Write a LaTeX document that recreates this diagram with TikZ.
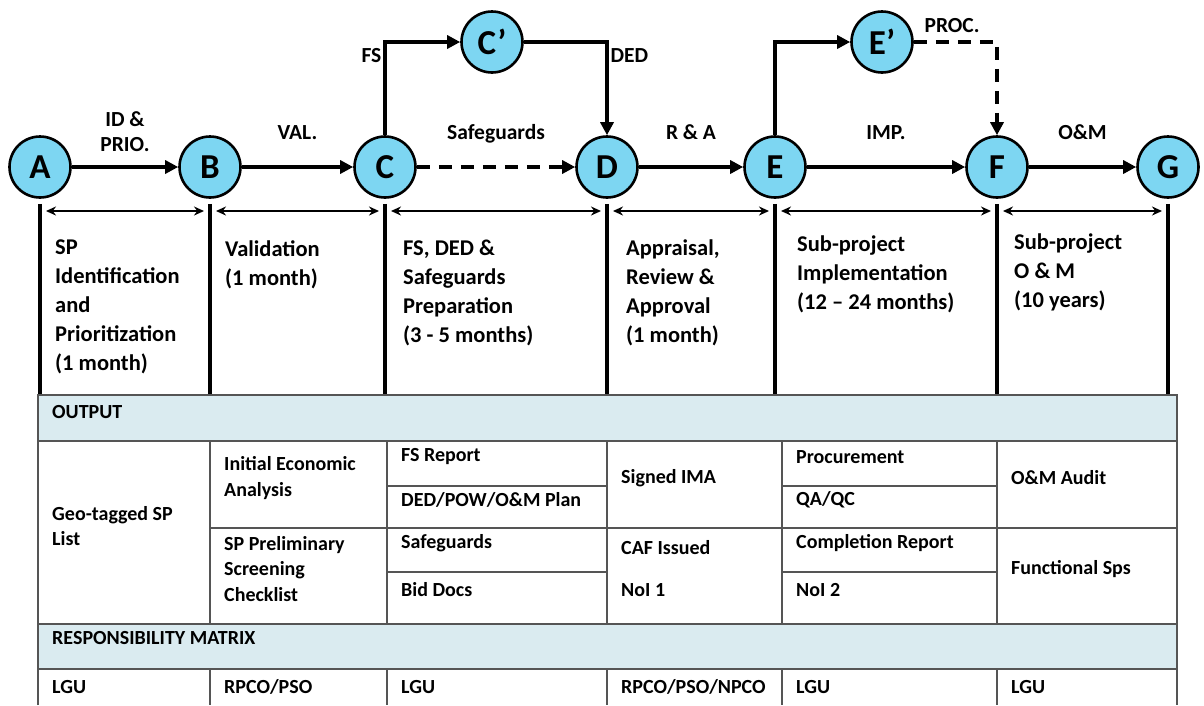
\documentclass[tikz,border=0pt]{standalone}
\usepackage{fontspec}
\setmainfont{Carlito}
\usepackage{tikz}
\usetikzlibrary{arrows.meta,calc}

\definecolor{milefill}{RGB}{125,214,242}
\definecolor{bandfill}{RGB}{218,235,240}
\definecolor{gridline}{RGB}{85,85,85}

\begin{document}
\begin{tikzpicture}[x=1pt,y=-1pt,
  milestone/.style={circle, draw, line width=2.6pt, fill=milefill, minimum size=61pt, inner sep=0pt, font=\fontsize{35}{36}\selectfont\bfseries},
  flow/.style={line width=3.2pt, -{Triangle[length=13pt,width=13pt]}},
  dflow/.style={flow, dash pattern=on 13pt off 9pt},
  tag/.style={font=\fontsize{21.5}{25}\selectfont\bfseries, align=center, inner sep=2pt, text depth=0pt},
  tick/.style={line width=3.2pt},
  span/.style={line width=2.2pt, {Stealth[length=10pt,width=9pt]}-{Stealth[length=10pt,width=9pt]}},
  phase/.style={anchor=north west, align=left, inner sep=0pt, font=\fontsize{22.5}{29}\selectfont\bfseries},
  cell/.style={anchor=west, align=left, inner sep=0pt, font=\fontsize{20}{25.5}\selectfont\bfseries},
  grid/.style={draw=gridline, line width=1.5pt}]
\useasboundingbox (0,0) rectangle (1204,705);

% milestones
\node[milestone] (nA) at (40,167) {A};
\node[milestone] (nB) at (210,167) {B};
\node[milestone] (nC) at (385,167) {C};
\node[milestone] (nD) at (607,167) {D};
\node[milestone] (nE) at (775,167) {E};
\node[milestone] (nF) at (997,167) {F};
\node[milestone] (nG) at (1168,167) {G};
\node[milestone] (nCp) at (492,42) {C’};
\node[milestone] (nEp) at (882,42) {E’};

% activities
\draw[flow] (nA) -- node[tag, above=12pt] {ID \&\\PRIO.} (nB);
\draw[flow] (nB) -- node[tag, above=24pt] {VAL.} (nC);
\draw[dflow] (nC) -- node[tag, above=24pt] {Safeguards} (nD);
\draw[flow] (nD) -- node[tag, above=24pt] {R \& A} (nE);
\draw[flow] (nE) -- node[tag, above=24pt] {IMP.} (nF);
\draw[flow] (nF) -- node[tag, above=24pt] {O\&M} (nG);
\draw[flow] (nC) |- node[tag, pos=0.43, left] {FS} (nCp);
\draw[flow] (nCp) -| node[tag, pos=0.57, right] {DED} (nD);
\draw[flow] (nE) |- (nEp);
\draw[dflow] (nEp) -| node[tag, pos=0.23, above=6pt] {PROC.} (nF);

% time spans
\coordinate (top) at (0,395);
\coordinate (dim) at (0,211);
\draw[tick] ($(nA.south)+(0,5)$) -- (nA |- top);
\draw[tick] ($(nB.south)+(0,5)$) -- (nB |- top);
\draw[tick] ($(nC.south)+(0,5)$) -- (nC |- top);
\draw[tick] ($(nD.south)+(0,5)$) -- (nD |- top);
\draw[tick] ($(nE.south)+(0,5)$) -- (nE |- top);
\draw[tick] ($(nF.south)+(0,5)$) -- (nF |- top);
\draw[tick] ($(nG.south)+(0,5)$) -- (nG |- top);
\draw[span] ($(nA |- dim)+(6,0)$) -- ($(nB |- dim)+(-6,0)$);
\draw[span] ($(nB |- dim)+(6,0)$) -- ($(nC |- dim)+(-6,0)$);
\draw[span] ($(nC |- dim)+(6,0)$) -- ($(nD |- dim)+(-6,0)$);
\draw[span] ($(nD |- dim)+(6,0)$) -- ($(nE |- dim)+(-6,0)$);
\draw[span] ($(nE |- dim)+(6,0)$) -- ($(nF |- dim)+(-6,0)$);
\draw[span] ($(nF |- dim)+(6,0)$) -- ($(nG |- dim)+(-6,0)$);

\node[phase] (pA) at (55,240) {SP\\Identification\\and\\Prioritization\\(1 month)};
\node[phase] (pB) at (225,240) {Validation\\(1 month)};
\node[phase] (pC) at (403,240) {FS, DED \&\\Safeguards\\Preparation\\(3 -  5 months)};
\node[phase] (pD) at (626,240) {Appraisal,\\Review \&\\Approval\\(1 month)};
\node[phase] (pE) at (797,236) {Sub-project\\Implementation\\(12 – 24 months)};
\node[phase] (pF) at (1014,234) {Sub-project\\O \& M\\(10 years)};

% table
\fill[bandfill] (38,395) rectangle (1177,441);
\fill[bandfill] (38,624) rectangle (1177,669);
\draw[grid] (38,705) -- (38,395) -- (1177,395) -- (1177,705);
\draw[grid] (38,441) -- (1177,441);
\draw[grid] (38,624) -- (1177,624);
\draw[grid] (38,669) -- (1177,669);
\draw[grid] (210,528) -- (1177,528);
\draw[grid] (387,486) -- (607,486);
\draw[grid] (387,572) -- (607,572);
\draw[grid] (782,486) -- (997,486);
\draw[grid] (782,572) -- (997,572);
\foreach \cx in {210,387,607,782,997} {
  \draw[grid] (\cx,441) -- (\cx,624);
  \draw[grid] (\cx,669) -- (\cx,705);
}

\node[cell] (hOut) at (52,412) {OUTPUT};
\node[cell] (oA) at (52,526) {Geo-tagged SP\\List};
\node[cell] (oB1) at (224,478) {Initial Economic\\Analysis};
\node[cell] (oB2) at (224,569) {SP Preliminary\\Screening\\Checklist};
\node[cell] (oC1) at (401,457) {FS Report};
\node[cell] (oC2) at (401,500) {DED/POW/O\&M Plan};
\node[cell] (oC3) at (401,543) {Safeguards};
\node[cell] (oC4) at (401,590) {Bid Docs};
\node[cell] (oD1) at (621,478) {Signed IMA};
\node[cell] (oD2) at (621,548) {CAF Issued};
\node[cell] (oD3) at (621,590) {NoI 1};
\node[cell] (oE1) at (796,457) {Procurement};
\node[cell] (oE2) at (796,500) {QA/QC};
\node[cell] (oE3) at (796,543) {Completion Report};
\node[cell] (oE4) at (796,590) {NoI 2};
\node[cell] (oF1) at (1011,478) {O\&M Audit};
\node[cell] (oF2) at (1011,569) {Functional Sps};

\node[cell] (hResp) at (52,638) {RESPONSIBILITY MATRIX};
\node[cell] (rA) at (52,687) {LGU};
\node[cell] (rB) at (224,687) {RPCO/PSO};
\node[cell] (rC) at (401,687) {LGU};
\node[cell] (rD) at (621,687) {RPCO/PSO/NPCO};
\node[cell] (rE) at (796,687) {LGU};
\node[cell] (rF) at (1011,687) {LGU};
\end{tikzpicture}
\end{document}
